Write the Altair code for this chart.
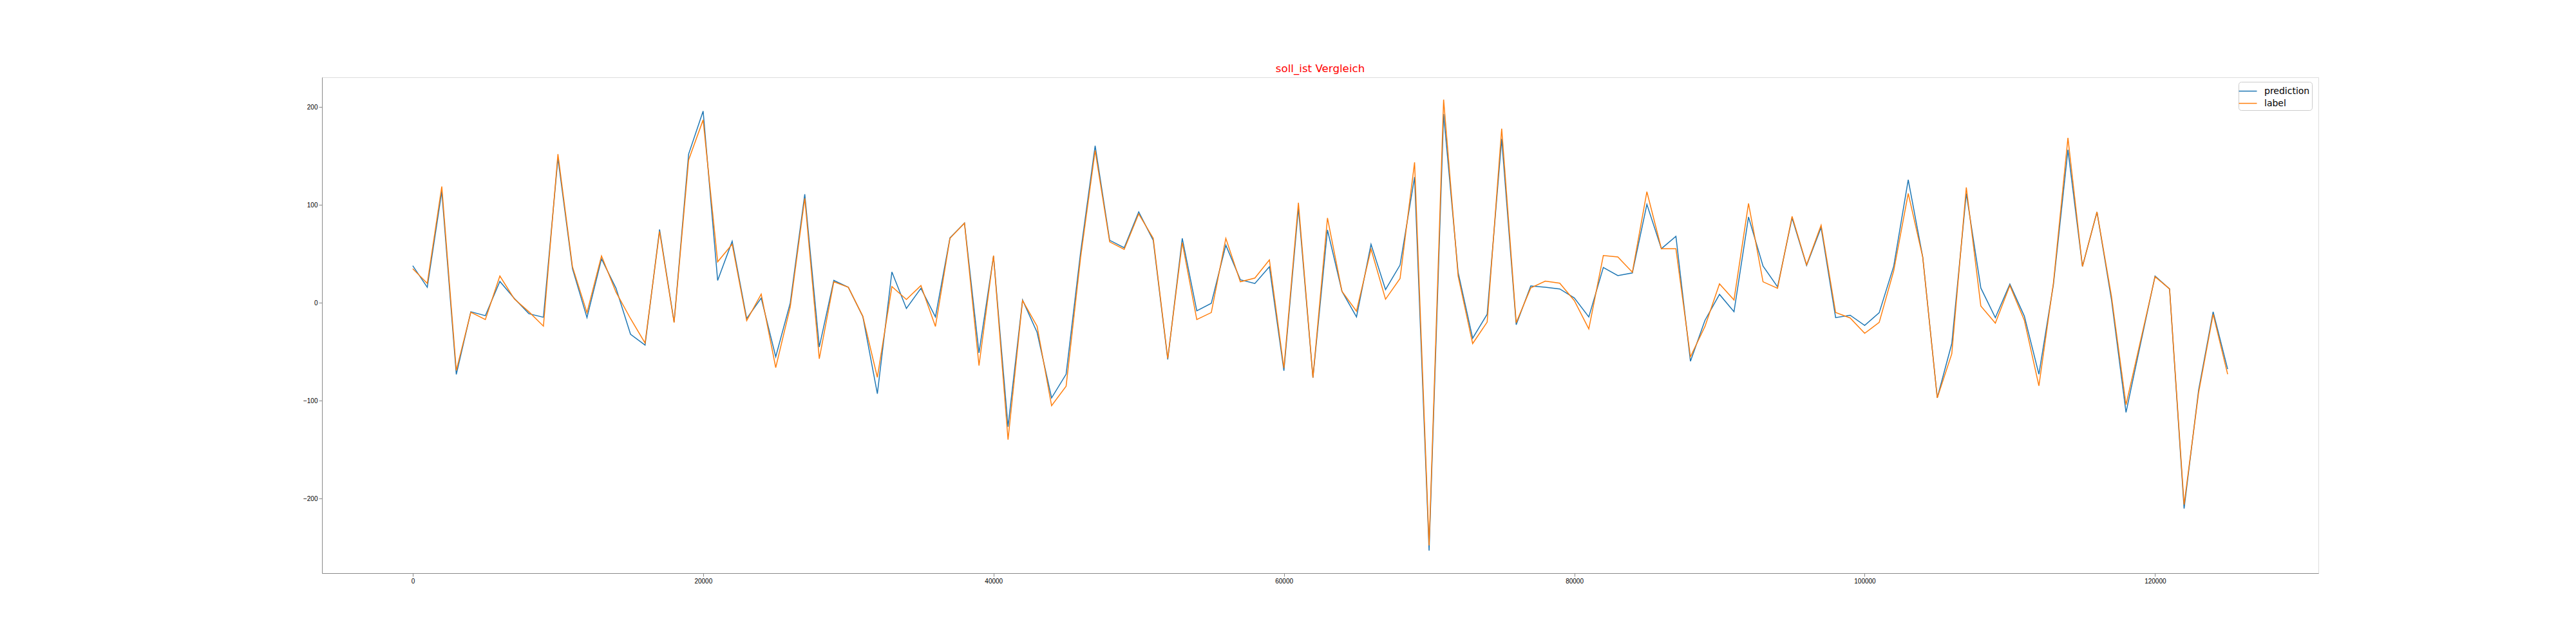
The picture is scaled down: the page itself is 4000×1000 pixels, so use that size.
import altair as alt
import pandas as pd

# x positions (sample index * 1000)
x_values = list(range(0, 126000, 1000))

prediction = [
    38, 16, 114, -73, -9, -13, 22, 4.5, -11, -14.6,
    148, 35, -15, 45, 15, -32, -43, 75, -19.5, 152,
    196, 23, 63, -16, 5, -55, 0, 111, -45, 23,
    16, -14, -92.7, 31.7, -5.6, 15, -14.3, 66.5, 81.5, -51,
    47.7, -126.5, 3, -30, -97, -72.8, 52, 160.6, 64, 56.4,
    93, 64, -57.8, 66, -8, -0.3, 59, 23.7, 19.9, 37,
    -69.3, 97, -76.3, 74.6, 11.8, -14.3, 60, 13.6, 38.7, 128.6,
    -253, 193, 31, -36, -11.5, 167.6, -22.3, 17.4, 16, 14.3,
    5.2, -14.3, 36.2, 27.9, 30.7, 100.7, 55.4, 68, -59.6, -17.8,
    8.7, -9, 87.8, 37.6, 16.4, 86.8, 38.3, 77, -15, -12.5,
    -23, -10, 37.5, 125.8, 46.7, -96.9, -41.5, 111.8, 15.3, -15,
    19.2, -13.6, -72.8, 18.8, 156.4, 37.3, 93, 3.1, -111.8, -41.8,
    27.5, 14.3, -210, -89, -9, -67.6,
]

label = [
    35, 20, 119, -69, -9.5, -17, 27.5, 4, -9, -23.7,
    152, 37, -10, 48, 11, -16, -41, 73, -20, 146,
    187, 42, 60, -18, 9, -66, -4, 107, -57, 21.6,
    16, -13.6, -76, 16.7, 3.5, 17.8, -24, 66, 81.5, -64,
    48.4, -139.7, 2.4, -23.7, -105, -85, 46.7, 155.7, 62.4, 54.7,
    91, 66, -56.8, 61.7, -17, -9.8, 66, 21.6, 25.4, 44,
    -66.5, 102.4, -76.3, 86.8, 11.8, -8.4, 55, 3.8, 25, 143.6,
    -247.7, 207.7, 27.5, -41.5, -19.5, 178, -20.2, 15.3, 22.3, 20.2,
    2.4, -26.5, 48.4, 47, 31.4, 113.6, 55.4, 55.4, -55, -24,
    19.5, 3.1, 101.7, 21.6, 15, 88.5, 39, 79.4, -9.8, -15.3,
    -31, -19.9, 32.8, 111.8, 46.7, -96.9, -52, 118, -3.1, -20.6,
    17.8, -17.8, -84.7, 20.5, 168.6, 37.3, 93, 6.6, -104, -38.7,
    26.8, 14.3, -206, -91.6, -11.5, -72.8,
]

series_names = ["prediction", "label"]
series_colors = ["#1f77b4", "#ff7f0e"]
x_ticks = [0, 20000, 40000, 60000, 80000, 100000, 120000]
y_ticks = [-200, -100, 0, 100, 200]

rows = []
for name, vals in zip(series_names, [prediction, label]):
    for i, (xv, yv) in enumerate(zip(x_values, vals)):
        rows.append({"x": xv, "value": yv, "series": name, "order": i})
df = pd.DataFrame(rows)

FONT = "DejaVu Sans"

chart = (
    alt.Chart(df)
    .mark_line(strokeWidth=1.5, interpolate="linear")
    .encode(
        x=alt.X(
            "x:Q",
            scale=alt.Scale(domain=[-6250, 131250], nice=False, zero=False),
            axis=alt.Axis(values=x_ticks, format="d", title=None, grid=False),
        ),
        y=alt.Y(
            "value:Q",
            scale=alt.Scale(domain=[-276, 230.5], nice=False, zero=False),
            axis=alt.Axis(
                values=y_ticks,
                format="d",
                title=None,
                grid=False,
                labelExpr="replace(datum.label, '-', '\u2212')",
            ),
        ),
        color=alt.Color(
            "series:N",
            scale=alt.Scale(domain=series_names, range=series_colors),
            legend=alt.Legend(
                title=None,
                orient="none",
                legendX=2976,
                legendY=7,
                symbolType="M-1.33,0H1.33",
                symbolSize=441,
                symbolStrokeWidth=1.5,
                labelFontSize=14,
                labelFont=FONT,
                labelColor="#000000",
                labelOffset=14,
                padding=3,
                rowPadding=0,
                fillColor="#ffffff",
                strokeColor="#cccccc",
                cornerRadius=4,
            ),
        ),
        detail="series:N",
        order="order:Q",
    )
    .properties(
        width=3100,
        height=770,
        title=alt.TitleParams(
            text="soll_ist Vergleich",
            color="#ff0000",
            fontSize=16.7,
            font=FONT,
            fontWeight="normal",
            anchor="middle",
            offset=8,
            dy=17,
            baseline="alphabetic",
        ),
        autosize=alt.AutoSizeParams(type="none"),
        padding={"left": 492, "top": 112, "right": 392, "bottom": 102},
    )
    .configure_axis(
        grid=False,
        domainColor="#000000",
        domainWidth=1.1,
        tickColor="#000000",
        tickWidth=1.1,
        tickSize=5,
        labelFontSize=14,
        labelFont=FONT,
        labelColor="#000000",
        labelPadding=5,
    )
    .configure_view(stroke="#000000", strokeWidth=1.1)
    .configure(background="#ffffff")
)

chart.save("out.html", embed_options={"renderer": "svg", "actions": False})
